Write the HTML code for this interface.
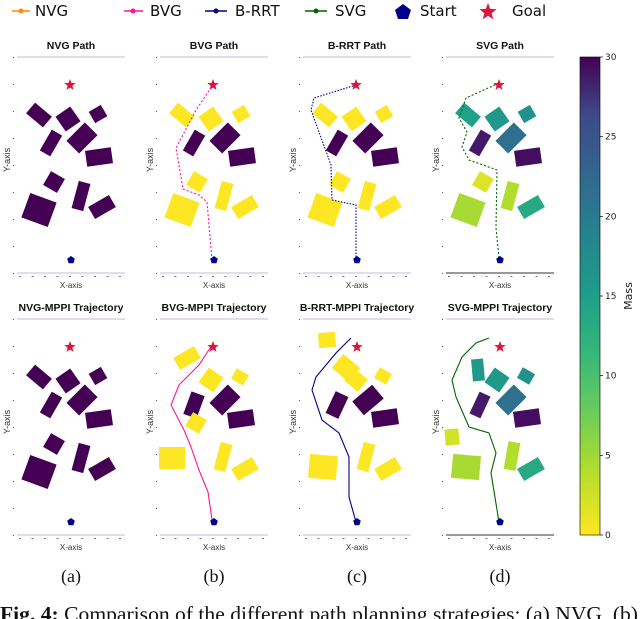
<!DOCTYPE html>
<html><head><meta charset="utf-8"><style>
body{margin:0;background:#fff;width:640px;height:619px;overflow:hidden}
svg{display:block}
</style></head><body>
<svg id="fig" width="640" height="619" viewBox="0 0 640 619" xmlns="http://www.w3.org/2000/svg">
<defs>
<linearGradient id="vir" x1="0" y1="1" x2="0" y2="0">
<stop offset="0" stop-color="#fde725"/><stop offset="0.13" stop-color="#b5de2b"/><stop offset="0.25" stop-color="#6ece58"/><stop offset="0.38" stop-color="#35b779"/><stop offset="0.5" stop-color="#1f9e89"/><stop offset="0.63" stop-color="#26828e"/><stop offset="0.75" stop-color="#31688e"/><stop offset="0.88" stop-color="#3e4989"/><stop offset="1" stop-color="#440154"/>
</linearGradient>
</defs>
<g id="legend" font-family="DejaVu Sans, sans-serif" font-size="15" fill="#111">
<g><line x1="12" y1="11" x2="30" y2="11" stroke="#ff8c00" stroke-width="1.5"/><circle cx="21" cy="11" r="2.5" fill="#ff8c00"/><text x="35" y="16">NVG</text></g>
<g><line x1="124" y1="11" x2="143" y2="11" stroke="#ff1493" stroke-width="1.5"/><circle cx="133" cy="11" r="2.5" fill="#ff1493"/><text x="150" y="16">BVG</text></g>
<g><line x1="205" y1="11" x2="227" y2="11" stroke="#00008b" stroke-width="1.5"/><circle cx="216" cy="11" r="2.5" fill="#00008b"/><text x="235" y="16">B-RRT</text></g>
<g><line x1="305" y1="11" x2="327" y2="11" stroke="#006400" stroke-width="1.5"/><circle cx="316" cy="11" r="2.5" fill="#006400"/><text x="335" y="16">SVG</text></g>
<g><polygon points="403,4 411,10 408,19 398,19 395,10" fill="#00008b"/><text x="420" y="16">Start</text></g>
<g><polygon id="lgstar" fill="#dc143c"/><text x="512" y="16">Goal</text></g>
</g>
<g id="panels"></g>
<g>
<rect x="580" y="57" width="20" height="478" fill="url(#vir)" stroke="#000" stroke-width="0.6"/>
<g id="cbticks" font-family="DejaVu Sans, sans-serif" font-size="9" fill="#222"></g>
<text transform="translate(632,296) rotate(-90)" text-anchor="middle" font-family="DejaVu Sans, sans-serif" font-size="11" fill="#222">Mass</text>
</g>
<g font-family="Liberation Serif, serif" font-size="18" fill="#111" text-anchor="middle">
<text x="71" y="582">(a)</text>
<text x="214" y="582">(b)</text>
<text x="357" y="582">(c)</text>
<text x="500" y="582">(d)</text>
</g>
<text x="0" y="621" font-family="Liberation Serif, serif" font-size="21" textLength="638" lengthAdjust="spacingAndGlyphs" fill="#111"><tspan font-weight="bold">Fig. 4:</tspan> Comparison of the different path planning strategies; (a) NVG, (b)</text>
</svg>
<script>
const NS='http://www.w3.org/2000/svg';
const cbTicks=[0,5,10,15,20,25,30];
const titles=['NVG Path','BVG Path','B-RRT Path','SVG Path','NVG-MPPI Trajectory','BVG-MPPI Trajectory','B-RRT-MPPI Trajectory','SVG-MPPI Trajectory'];
const obsTop=[[39,85,22,14,40],[68,89,18,18,-35],[98,84,14,13,-30],[51,113,12,24,30],[82,108,18,26,45],[99,127,26,16,-8],[54,152,16,16,30],[81,166,12,28,15],[39,180,28,26,20],[102,177,24,14,-30]];
const massNVG=[30,30,30,30,30,30,30,30,30,30];
const massBVG=[0,0,0,30,30,30,0,0,0,0];
const massSVG=[13,14,15,28,19,29,1.5,3.5,4,12];
const obsBVGb=[[44,96,24,14,-30],[68,118,18,18,35],[97,115,14,12,30],[51,143,14,24,20],[82,138,18,26,45],[98,157,26,16,-8],[53,161,16,16,30],[80,195,12,28,15],[29,196,26,22,0],[102,207,24,14,-30]];
const massBVGb=[0,0,0,30,30,30,0,0,0,0];
const obsRRTb=[[41,78,17,15,-5],[60,106,22,18,40],[70,118,18,16,40],[97,114,14,12,30],[51,143,14,24,25],[82,138,18,26,50],[99,156,26,16,-8],[80,195,12,28,15],[37,205,28,24,5],[102,207,24,14,-30]];
const massRRTb=[0,0,0,0,30,30,30,0,0,0];
const obsSVGb=[[49,108,12,22,-5],[68,118,18,18,35],[97,114,14,12,30],[51,143,12,24,25],[82,138,18,26,45],[98,156,26,16,-8],[23,175,14,16,-5],[83,194,12,28,10],[37,205,28,24,5],[102,207,24,14,-30]];
const massSVGb=[14,14,15,28,19,29,2,3.5,4,12];
const pathBVG=[[69,260],[64,202],[56,195],[40,189],[33,148],[53,110],[70,85]];
const pathRRT=[[70,260],[70,205],[46,200],[45,165],[25,110],[28,98],[70,85]];
const pathSVG=[[70,258],[67,228],[68,170],[40,160],[33,147],[38,132],[30,118],[37,98],[68,84]];
const trajBVG=[[69,258],[65,230],[56,208],[48,185],[41,168],[28,143],[36,123],[47,112],[56,103],[69,83]];
const trajRRT=[[70,260],[63,235],[63,195],[53,171],[36,158],[26,128],[30,115],[50,91],[65,76]];
const trajSVG=[[70,260],[62,211],[67,191],[60,171],[40,165],[27,135],[23,118],[33,95],[47,81],[60,76]];
const goal=[70,85], start=[70,260];

const vir=['#fde725','#b5de2b','#6ece58','#35b779','#1f9e89','#26828e','#31688e','#3e4989','#482878','#440154'];
function hex(c){return [parseInt(c.slice(1,3),16),parseInt(c.slice(3,5),16),parseInt(c.slice(5,7),16)];}
function mcol(m){const t=Math.max(0,Math.min(1,m/30))*(vir.length-1);const i=Math.min(vir.length-2,Math.floor(t));const f=t-i;const a=hex(vir[i]),b=hex(vir[i+1]);return 'rgb('+a.map((v,k)=>Math.round(v+(b[k]-v)*f)).join(',')+')';}
function el(tag,attrs,parent){const e=document.createElementNS(NS,tag);for(const k in attrs)e.setAttribute(k,attrs[k]);parent.appendChild(e);return e;}
function starPts(cx,cy,R,r){let p=[];for(let i=0;i<10;i++){const a=-Math.PI/2+i*Math.PI/5;const rr=i%2?r:R;p.push((cx+rr*Math.cos(a)).toFixed(1)+','+(cy+rr*Math.sin(a)).toFixed(1));}return p.join(' ');}
function pentPts(cx,cy,R){let p=[];for(let i=0;i<5;i++){const a=-Math.PI/2+i*2*Math.PI/5;p.push((cx+R*Math.cos(a)).toFixed(1)+','+(cy+R*Math.sin(a)).toFixed(1));}return p.join(' ');}
document.getElementById('lgstar').setAttribute('points',starPts(488,12,9,3.8));

const root=document.getElementById('panels');
const colX=[0,143,286,429], rowY=[0,262];
const panels=[
 {obs:obsTop,mass:massNVG,path:null},
 {obs:obsTop,mass:massBVG,path:pathBVG,col:'#ff1493',dash:'2,2'},
 {obs:obsTop,mass:massBVG,path:pathRRT,col:'#00008b',dash:'1.5,1.5'},
 {obs:obsTop,mass:massSVG,path:pathSVG,col:'#006400',dash:'2,2'},
 {obs:obsTop,mass:massNVG,path:null},
 {obs:obsBVGb,mass:massBVGb,path:trajBVG,col:'#ff1493'},
 {obs:obsRRTb,mass:massRRTb,path:trajRRT,col:'#00008b'},
 {obs:obsSVGb,mass:massSVGb,path:trajSVG,col:'#006400'}
];
panels.forEach((p,i)=>{
 const ox=colX[i%4], oy=rowY[Math.floor(i/4)];
 const g=el('g',{transform:'translate('+ox+','+oy+')'},root);
 
 
 const t=el('text',{x:71,y:49,'text-anchor':'middle','font-family':'Liberation Sans, sans-serif','font-size':'10.5','font-weight':'bold',fill:'#111'},g);
 t.textContent=titles[i];
 
 
 const top=el('line',{x1:17,y1:57,x2:125,y2:57,stroke:'#c9b8d6','stroke-width':'1'},g);
 
 
 const bot=el('line',{x1:17,y1:273,x2:125,y2:273,stroke:i==3||i==7?'#333':'#c9b8d6','stroke-width':'1'},g);
 
 
 for(let k=0;k<9;k++){const d=el('rect',{x:13,y:57+k*27,width:1,height:1,fill:'#555'},g);}
 for(let k=0;k<9;k++){const d=el('rect',{x:19+k*12.5,y:276,width:2,height:1,fill:'#777'},g);}
 const yl=el('text',{transform:'translate(10,160) rotate(-90)','text-anchor':'middle','font-family':'Liberation Sans, sans-serif','font-size':'9',fill:'#333'},g);
 yl.textContent='Y-axis';
 
 
 const xl=el('text',{x:71,y:288,'text-anchor':'middle','font-family':'Liberation Sans, sans-serif','font-size':'8',fill:'#333'},g);
 xl.textContent='X-axis';
 
 
 p.obs.forEach((o,j)=>{
  const oyy=(p.obs===obsTop)?o[1]+30:o[1];
  const r=el('rect',{x:o[0]-o[2]/2,y:oyy-o[3]/2,width:o[2],height:o[3],fill:mcol(p.mass[j]),transform:'rotate('+o[4]+' '+o[0]+' '+oyy+')'},g);
  
  
 });
 if(p.path){
  const pl=el('polyline',{points:p.path.map(q=>q.join(',')).join(' '),fill:'none',stroke:p.col,'stroke-width':1.1},g);
  if(p.dash)pl.setAttribute('stroke-dasharray',p.dash);
  
  
 }
 const gs=el('polygon',{points:starPts(goal[0]+(i>=6?1:0),goal[1],6,2.5),fill:'#dc143c'},g);
 
 
 const sp=el('polygon',{points:pentPts(start[0]+1,start[1],4),fill:'#00008b'},g);
 
 
});
const cbt=document.getElementById('cbticks');
cbTicks.forEach(v=>{
 const y=535-v/30*478;
 const l=el('line',{x1:600,y1:y,x2:603,y2:y,stroke:'#000','stroke-width':'0.7'},cbt);
 
 
 const tx=el('text',{x:605,y:y+3},cbt);
 tx.textContent=v;
 
 
});
</script>
</body></html>
